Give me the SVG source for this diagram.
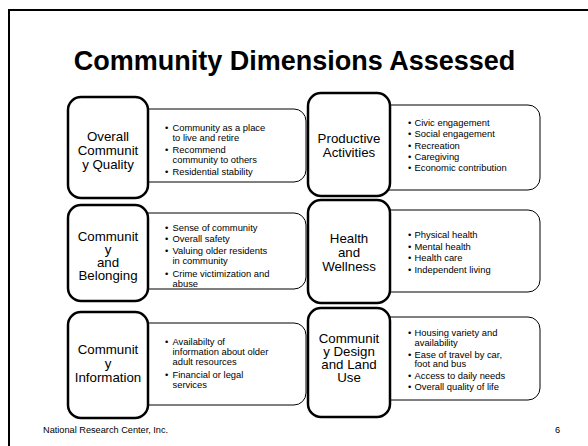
<svg xmlns="http://www.w3.org/2000/svg" width="588" height="446" viewBox="0 0 588 446">
<style>
  text { font-family: "Liberation Sans", Arial, sans-serif; fill: #000; }
  .title { font-size: 27px; font-weight: bold; text-anchor: middle; }
  .lbl { font-size: 13.3px; text-anchor: middle; }
  .det { font-size: 9.4px; }
  .foot { font-size: 9.2px; }
  .sq { fill: #fff; stroke: #000; stroke-width: 2.5; }
  .bx { fill: #fff; stroke: #000; stroke-width: 1; }
  .frame { fill: none; stroke: #000; stroke-width: 2; }
</style>
<rect x="0" y="0" width="588" height="446" fill="#fff"/>
<rect class="frame" x="9" y="10" width="600" height="460"/>
<text class="title" x="294.5" y="70">Community Dimensions Assessed</text>

<g id="overall-quality">
  <rect class="bx" x="125" y="109" width="181" height="73" rx="12"/>
  <rect class="sq" x="68" y="97" width="80" height="101" rx="13"/>
  <text class="lbl" x="108" y="140.7">Overall</text>
  <text class="lbl" x="108" y="155">Communit</text>
  <text class="lbl" x="108" y="168.8">y Quality</text>
  <text class="det" x="165" y="130.7">•</text><text class="det" x="172.5" y="130.7">Community as a place</text>
  <text class="det" x="172.5" y="140.7">to live and retire</text>
  <text class="det" x="165" y="152.7">•</text><text class="det" x="172.5" y="152.7">Recommend</text>
  <text class="det" x="172.5" y="162.7">community to others</text>
  <text class="det" x="165" y="174.5">•</text><text class="det" x="172.5" y="174.5">Residential stability</text>
</g>

<g id="belonging">
  <rect class="bx" x="125" y="213" width="181" height="76" rx="12"/>
  <rect class="sq" x="68" y="205" width="80" height="96" rx="13"/>
  <text class="lbl" x="108" y="240.7">Communit</text>
  <text class="lbl" x="108" y="253.5">y</text>
  <text class="lbl" x="108" y="266.7">and</text>
  <text class="lbl" x="108" y="280">Belonging</text>
  <text class="det" x="165" y="231">•</text><text class="det" x="172.5" y="231">Sense of community</text>
  <text class="det" x="165" y="242.3">•</text><text class="det" x="172.5" y="242.3">Overall safety</text>
  <text class="det" x="165" y="254.3">•</text><text class="det" x="172.5" y="254.3">Valuing older residents</text>
  <text class="det" x="172.5" y="264.3">in community</text>
  <text class="det" x="165" y="276.7">•</text><text class="det" x="172.5" y="276.7">Crime victimization and</text>
  <text class="det" x="172.5" y="286.7">abuse</text>
</g>

<g id="information">
  <rect class="bx" x="125" y="323" width="181" height="82" rx="12"/>
  <rect class="sq" x="68" y="312" width="80" height="106" rx="13"/>
  <text class="lbl" x="108" y="354.3">Communit</text>
  <text class="lbl" x="108" y="367.5">y</text>
  <text class="lbl" x="108" y="381.7">Information</text>
  <text class="det" x="165" y="345">•</text><text class="det" x="172.5" y="345">Availabilty of</text>
  <text class="det" x="172.5" y="355.3">information about older</text>
  <text class="det" x="172.5" y="365.3">adult resources</text>
  <text class="det" x="165" y="377.8">•</text><text class="det" x="172.5" y="377.8">Financial or legal</text>
  <text class="det" x="172.5" y="387.8">services</text>
</g>

<g id="productive">
  <rect class="bx" x="367" y="105" width="173" height="85" rx="12"/>
  <rect class="sq" x="308" y="93" width="82" height="103" rx="13"/>
  <text class="lbl" x="349" y="143.3">Productive</text>
  <text class="lbl" x="349" y="156.7">Activities</text>
  <text class="det" x="408" y="126">•</text><text class="det" x="414.5" y="126">Civic engagement</text>
  <text class="det" x="408" y="137.3">•</text><text class="det" x="414.5" y="137.3">Social engagement</text>
  <text class="det" x="408" y="148.6">•</text><text class="det" x="414.5" y="148.6">Recreation</text>
  <text class="det" x="408" y="159.9">•</text><text class="det" x="414.5" y="159.9">Caregiving</text>
  <text class="det" x="408" y="171.2">•</text><text class="det" x="414.5" y="171.2">Economic contribution</text>
</g>

<g id="health">
  <rect class="bx" x="367" y="210" width="173" height="82" rx="12"/>
  <rect class="sq" x="308" y="200" width="82" height="103" rx="13"/>
  <text class="lbl" x="349" y="243.3">Health</text>
  <text class="lbl" x="349" y="256.9">and</text>
  <text class="lbl" x="349" y="271">Wellness</text>
  <text class="det" x="408" y="238.3">•</text><text class="det" x="414.5" y="238.3">Physical health</text>
  <text class="det" x="408" y="249.8">•</text><text class="det" x="414.5" y="249.8">Mental health</text>
  <text class="det" x="408" y="261.3">•</text><text class="det" x="414.5" y="261.3">Health care</text>
  <text class="det" x="408" y="272.8">•</text><text class="det" x="414.5" y="272.8">Independent living</text>
</g>

<g id="design">
  <rect class="bx" x="367" y="317" width="173" height="83" rx="12"/>
  <rect class="sq" x="308" y="308" width="82" height="109" rx="13"/>
  <text class="lbl" x="349" y="342.7">Communit</text>
  <text class="lbl" x="349" y="355.5">y Design</text>
  <text class="lbl" x="349" y="368.5">and Land</text>
  <text class="lbl" x="349" y="381.7">Use</text>
  <text class="det" x="408" y="336">•</text><text class="det" x="414.5" y="336">Housing variety and</text>
  <text class="det" x="414.5" y="345.5">availability</text>
  <text class="det" x="408" y="357.5">•</text><text class="det" x="414.5" y="357.5">Ease of travel by car,</text>
  <text class="det" x="414.5" y="367">foot and bus</text>
  <text class="det" x="408" y="378.7">•</text><text class="det" x="414.5" y="378.7">Access to daily needs</text>
  <text class="det" x="408" y="390">•</text><text class="det" x="414.5" y="390">Overall quality of life</text>
</g>

<g id="connectors"></g>

<text class="foot" x="43" y="433">National Research Center, Inc.</text>
<text class="foot" x="555" y="433">6</text>
</svg>
